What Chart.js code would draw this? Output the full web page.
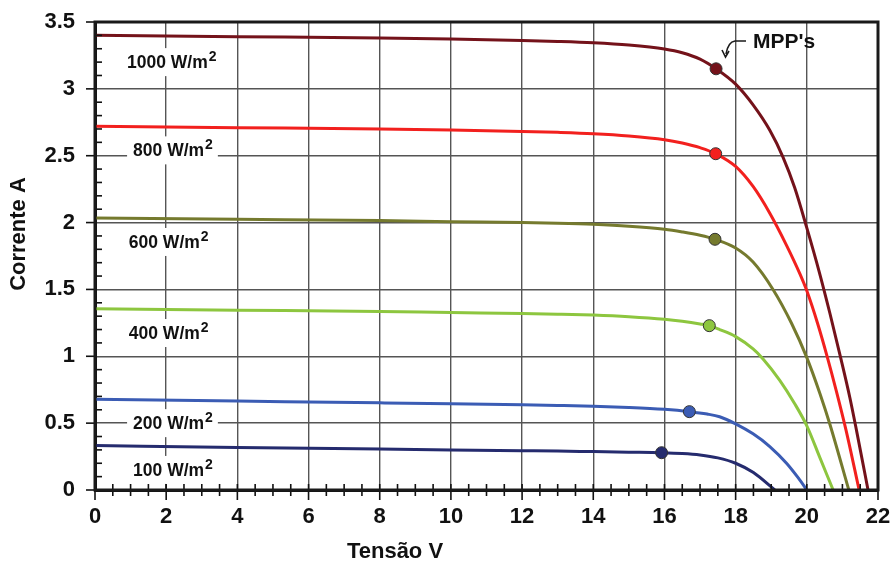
<!DOCTYPE html>
<html>
<head>
<meta charset="utf-8">
<script src="https://cdn.jsdelivr.net/npm/chart.js@4.4.1/dist/chart.umd.min.js"></script>
<style>
  html, body { margin: 0; padding: 0; background: #fff; }
</style>
</head>
<body>
<canvas id="ivChart" width="896" height="565"></canvas>
<script>
// I-V curves of a PV module for several irradiance levels
const v1000 = [0, 4, 8, 10, 12, 13, 14, 15, 16, 16.5, 17, 17.45, 18, 18.49, 18.96, 19.33, 19.66, 20, 20.35, 20.65, 20.95, 21.21, 21.4, 21.72];
const i1000 = [3.40, 3.39, 3.38, 3.372, 3.362, 3.355, 3.345, 3.328, 3.298, 3.27, 3.222, 3.15, 3.035, 2.88, 2.69, 2.49, 2.26, 1.96, 1.63, 1.32, 0.99, 0.69, 0.44, 0];

const v800 = [0, 4, 8, 10, 12, 13, 14, 15, 16, 16.5, 17, 17.44, 18, 18.49, 18.96, 19.43, 19.8, 20, 20.31, 20.57, 20.83, 21.1, 21.47];
const i800 = [2.72, 2.71, 2.70, 2.692, 2.682, 2.675, 2.665, 2.648, 2.62, 2.595, 2.56, 2.515, 2.42, 2.27, 2.07, 1.83, 1.62, 1.49, 1.24, 1.0, 0.74, 0.45, 0];

const v600 = [0, 4, 8, 10, 12, 13, 14, 15, 16, 16.5, 17, 17.42, 18, 18.49, 19.05, 19.57, 20, 20.37, 20.65, 21.18];
const i600 = [2.035, 2.025, 2.015, 2.007, 2.0, 1.995, 1.987, 1.973, 1.95, 1.93, 1.905, 1.875, 1.81, 1.705, 1.50, 1.247, 0.99, 0.72, 0.49, 0];

const v400 = [0, 4, 8, 10, 12, 13, 14, 15, 16, 16.5, 17, 17.26, 17.55, 18, 18.49, 18.77, 19.24, 19.66, 20, 20.37, 20.74];
const i400 = [1.355, 1.345, 1.335, 1.327, 1.32, 1.315, 1.308, 1.296, 1.277, 1.262, 1.242, 1.229, 1.20, 1.147, 1.055, 0.98, 0.82, 0.645, 0.48, 0.24, 0];

const v200 = [0, 4, 8, 10, 12, 13, 14, 15, 16, 16.7, 17.2, 17.55, 18, 18.49, 18.96, 19.43, 19.76, 20];
const i200 = [0.678, 0.665, 0.652, 0.645, 0.637, 0.632, 0.626, 0.617, 0.603, 0.586, 0.568, 0.548, 0.495, 0.42, 0.325, 0.20, 0.09, 0];

const v100 = [0, 4, 8, 10, 12, 13, 14, 15, 15.92, 16.5, 17, 17.5, 18, 18.5, 19.1];
const i100 = [0.332, 0.318, 0.306, 0.30, 0.294, 0.291, 0.287, 0.283, 0.279, 0.273, 0.262, 0.24, 0.20, 0.13, 0];

// maximum power points
const mppV = [17.45, 17.44, 17.42, 17.26, 16.7, 15.92];
const mppI = [3.15, 2.515, 1.875, 1.229, 0.586, 0.279];

const irradiance = ["1000", "800", "600", "400", "200", "100"];
const curveColors = ["#74121a", "#f2201e", "#757a2e", "#8dc63f", "#3b5cb4", "#252b6e"];

// label anchors (left edge, vertical centre) in data units
const labelV = [0.9, 1.07, 0.95, 0.95, 1.07, 1.07];
const labelI = [3.20, 2.54, 1.855, 1.174, 0.50, 0.15];

const xTicks = [0, 2, 4, 6, 8, 10, 12, 14, 16, 18, 20, 22];
const yTicks = [0, 0.5, 1, 1.5, 2, 2.5, 3, 3.5];

const curves = [[v1000, i1000], [v800, i800], [v600, i600], [v400, i400], [v200, i200], [v100, i100]];

const toPoints = (xs, ys) => xs.map((x, k) => ({ x: x, y: ys[k] }));

const FONT = "'Liberation Sans', Arial, sans-serif";

/**
 * Draws irradiance labels, minor ticks, frame, axis titles and the MPP note
 */
const decorPlugin = {
  id: "decor",
  beforeDatasetsDraw(chart) {
    const { ctx, scales } = chart;
    const x = scales.x, y = scales.y;
    ctx.save();
    irradiance.forEach((name, k) => {
      const base = name + " W/m";
      ctx.font = "bold 17.5px " + FONT;
      const w1 = ctx.measureText(base).width;
      ctx.font = "bold 14px " + FONT;
      const w2 = ctx.measureText("2").width;
      const px = x.getPixelForValue(labelV[k]);
      const py = y.getPixelForValue(labelI[k]);
      ctx.fillStyle = "#fff";
      ctx.fillRect(px - 6, py - 14, w1 + w2 + 12, 28);
      ctx.fillStyle = "#111";
      ctx.textBaseline = "middle";
      ctx.textAlign = "left";
      ctx.font = "bold 17.5px " + FONT;
      ctx.fillText(base, px, py + 1);
      ctx.font = "bold 14px " + FONT;
      ctx.fillText("2", px + w1 + 1, py - 5);
    });
    ctx.restore();
  },
  afterDatasetsDraw(chart) {
    const { ctx, chartArea, scales } = chart;
    const x = scales.x, y = scales.y;
    ctx.save();
    ctx.strokeStyle = "#111";
    ctx.lineWidth = 1.6;

    // x ticks: minor every 0.5, major every 2
    for (let k = 0; k <= 44; k++) {
      const px = x.getPixelForValue(k / 2);
      const major = k % 4 === 0;
      ctx.beginPath();
      ctx.moveTo(px, chartArea.bottom - 6);
      ctx.lineTo(px, chartArea.bottom + (major ? 10 : 6));
      ctx.stroke();
    }
    // y ticks: minor every 0.1 inside, major every 0.5 outside
    for (let k = 0; k <= 35; k++) {
      const py = y.getPixelForValue(k / 10);
      ctx.beginPath();
      if (k % 5 === 0) {
        ctx.moveTo(chartArea.left - 9, py);
        ctx.lineTo(chartArea.left, py);
      } else {
        ctx.moveTo(chartArea.left, py);
        ctx.lineTo(chartArea.left + 7, py);
      }
      ctx.stroke();
    }

    // plot frame
    ctx.lineWidth = 3;
    ctx.strokeStyle = "#1a1a1a";
    ctx.strokeRect(chartArea.left, chartArea.top, chartArea.right - chartArea.left, chartArea.bottom - chartArea.top);

    // axis titles
    ctx.fillStyle = "#111";
    ctx.font = "bold 22px " + FONT;
    ctx.textAlign = "center";
    ctx.textBaseline = "middle";
    ctx.fillText("Tensão V", 395, 552);
    ctx.save();
    ctx.translate(19, 234);
    ctx.rotate(-Math.PI / 2);
    ctx.fillText("Corrente A", 0, 0);
    ctx.restore();

    // MPP note with curved arrow
    ctx.font = "bold 21px " + FONT;
    ctx.textAlign = "left";
    ctx.fillText("MPP's", 753, 42);
    ctx.lineWidth = 1.6;
    ctx.beginPath();
    ctx.moveTo(746, 41);
    ctx.lineTo(735, 41);
    ctx.quadraticCurveTo(728, 42, 726, 54);
    ctx.stroke();
    ctx.beginPath();
    ctx.moveTo(722, 50);
    ctx.lineTo(725.5, 57);
    ctx.lineTo(729, 51);
    ctx.stroke();
    ctx.restore();
  },
};

const datasets = [
  {
    label: "MPP",
    data: toPoints(mppV, mppI),
    showLine: false,
    pointRadius: 6,
    pointHoverRadius: 6,
    pointBackgroundColor: curveColors,
    pointBorderColor: "#333",
    pointBorderWidth: 1,
    order: 0,
  },
].concat(
  curves.map((c, k) => ({
    label: irradiance[k] + " W/m²",
    data: toPoints(c[0], c[1]),
    showLine: true,
    borderColor: curveColors[k],
    borderWidth: 3,
    pointRadius: 0,
    cubicInterpolationMode: "monotone",
    fill: false,
    order: 1,
  }))
);

new Chart(document.getElementById("ivChart").getContext("2d"), {
  type: "scatter",
  data: { datasets: datasets },
  options: {
    responsive: false,
    animation: false,
    devicePixelRatio: 1,
    layout: { padding: { top: 22, right: 18, left: 0, bottom: 0 } },
    plugins: {
      legend: { display: false },
      tooltip: { enabled: false },
    },
    scales: {
      x: {
        type: "linear",
        min: 0,
        max: 22,
        afterBuildTicks: (scale) => { scale.ticks = xTicks.map((v) => ({ value: v })); },
        afterFit: (scale) => {
          scale.height = 75;
          scale.paddingLeft = 0;
          scale.paddingRight = 0;
        },
        ticks: {
          color: "#111",
          font: { family: FONT, size: 22, weight: "bold" },
          padding: 14,
          maxRotation: 0,
          callback: (v) => String(v),
        },
        grid: { color: "#555", lineWidth: 1.4, drawTicks: false },
        border: { display: true, color: "#111", width: 3 },
      },
      y: {
        type: "linear",
        min: 0,
        max: 3.5,
        afterBuildTicks: (scale) => { scale.ticks = yTicks.map((v) => ({ value: v })); },
        afterFit: (scale) => {
          scale.width = 95;
          scale.paddingTop = 0;
          scale.paddingBottom = 0;
        },
        ticks: {
          color: "#111",
          font: { family: FONT, size: 22, weight: "bold" },
          padding: 20,
          callback: (v) => String(v),
        },
        grid: { color: "#555", lineWidth: 1.4, drawTicks: false },
        border: { display: true, color: "#111", width: 3 },
      },
    },
  },
  plugins: [decorPlugin],
});
</script>
</body>
</html>
